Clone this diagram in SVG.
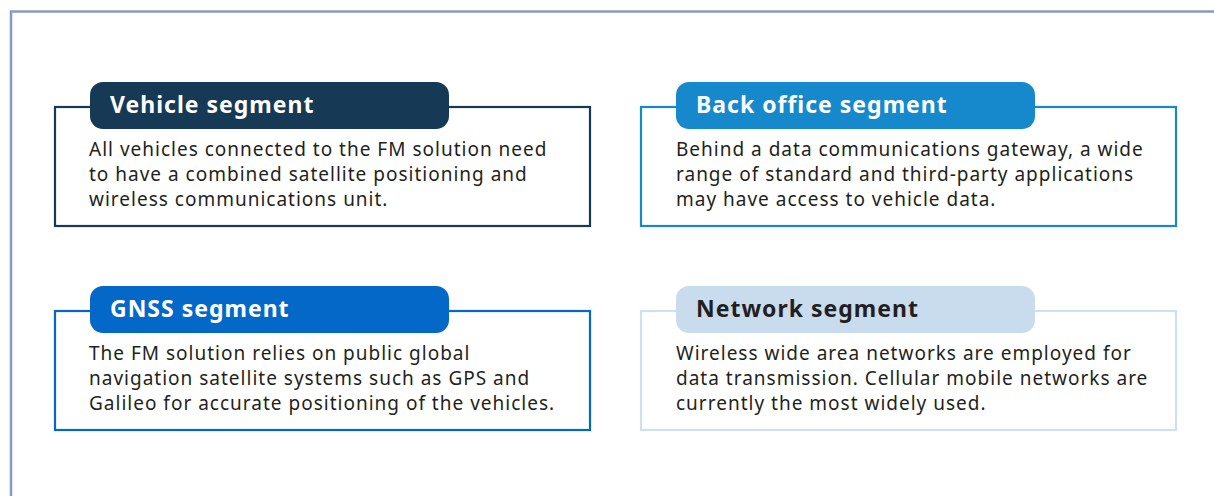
<svg xmlns="http://www.w3.org/2000/svg" width="1214" height="496" viewBox="0 0 1214 496">
<style>
.frame{fill:none;stroke:#8a99c4;stroke-width:2.5}
.box{fill:#fff;stroke-width:2.2}
.title{font-family:"Noto Sans","Liberation Sans",sans-serif;font-weight:bold;font-size:23px;letter-spacing:1px;fill:#fff}
.body{font-family:"Noto Sans","Liberation Sans",sans-serif;font-size:19px;letter-spacing:1px;fill:#231f20}
</style>
<rect width="1214" height="496" fill="#fff"/>
<path class="frame" d="M11,496 V11.5 H1214"/>
<g id="vehicle">
<rect class="box" x="55" y="107" width="535" height="119" stroke="#163a55"/>
<rect x="90" y="82" width="359" height="47" rx="13" fill="#163a55"/>
<text class="title" x="110" y="113">Vehicle segment</text>
<text class="body" x="89" y="156">All vehicles connected to the FM solution need</text>
<text class="body" x="89" y="181">to have a combined satellite positioning and</text>
<text class="body" x="89" y="206">wireless communications unit.</text>
</g>
<g id="backoffice">
<rect class="box" x="641" y="107" width="535" height="119" stroke="#1589cc"/>
<rect x="676" y="82" width="359" height="47" rx="13" fill="#1589cc"/>
<text class="title" x="696" y="113">Back office segment</text>
<text class="body" x="676" y="156">Behind a data communications gateway, a wide</text>
<text class="body" x="676" y="181">range of standard and third-party applications</text>
<text class="body" x="676" y="206">may have access to vehicle data.</text>
</g>
<g id="gnss">
<rect class="box" x="55" y="311" width="535" height="119" stroke="#0468c8"/>
<rect x="90" y="286" width="359" height="47" rx="13" fill="#0468c8"/>
<text class="title" x="110" y="317">GNSS segment</text>
<text class="body" x="89" y="360">The FM solution relies on public global</text>
<text class="body" x="89" y="385">navigation satellite systems such as GPS and</text>
<text class="body" x="89" y="410">Galileo for accurate positioning of the vehicles.</text>
</g>
<g id="network">
<rect class="box" x="641" y="311" width="535" height="119" stroke="#cfe0ef"/>
<rect x="676" y="286" width="359" height="47" rx="13" fill="#c9dcee"/>
<text class="title" x="696" y="317" style="fill:#231f20">Network segment</text>
<text class="body" x="676" y="360">Wireless wide area networks are employed for</text>
<text class="body" x="676" y="385">data transmission. Cellular mobile networks are</text>
<text class="body" x="676" y="410">currently the most widely used.</text>
</g>
<g id="connectors"/>
</svg>
